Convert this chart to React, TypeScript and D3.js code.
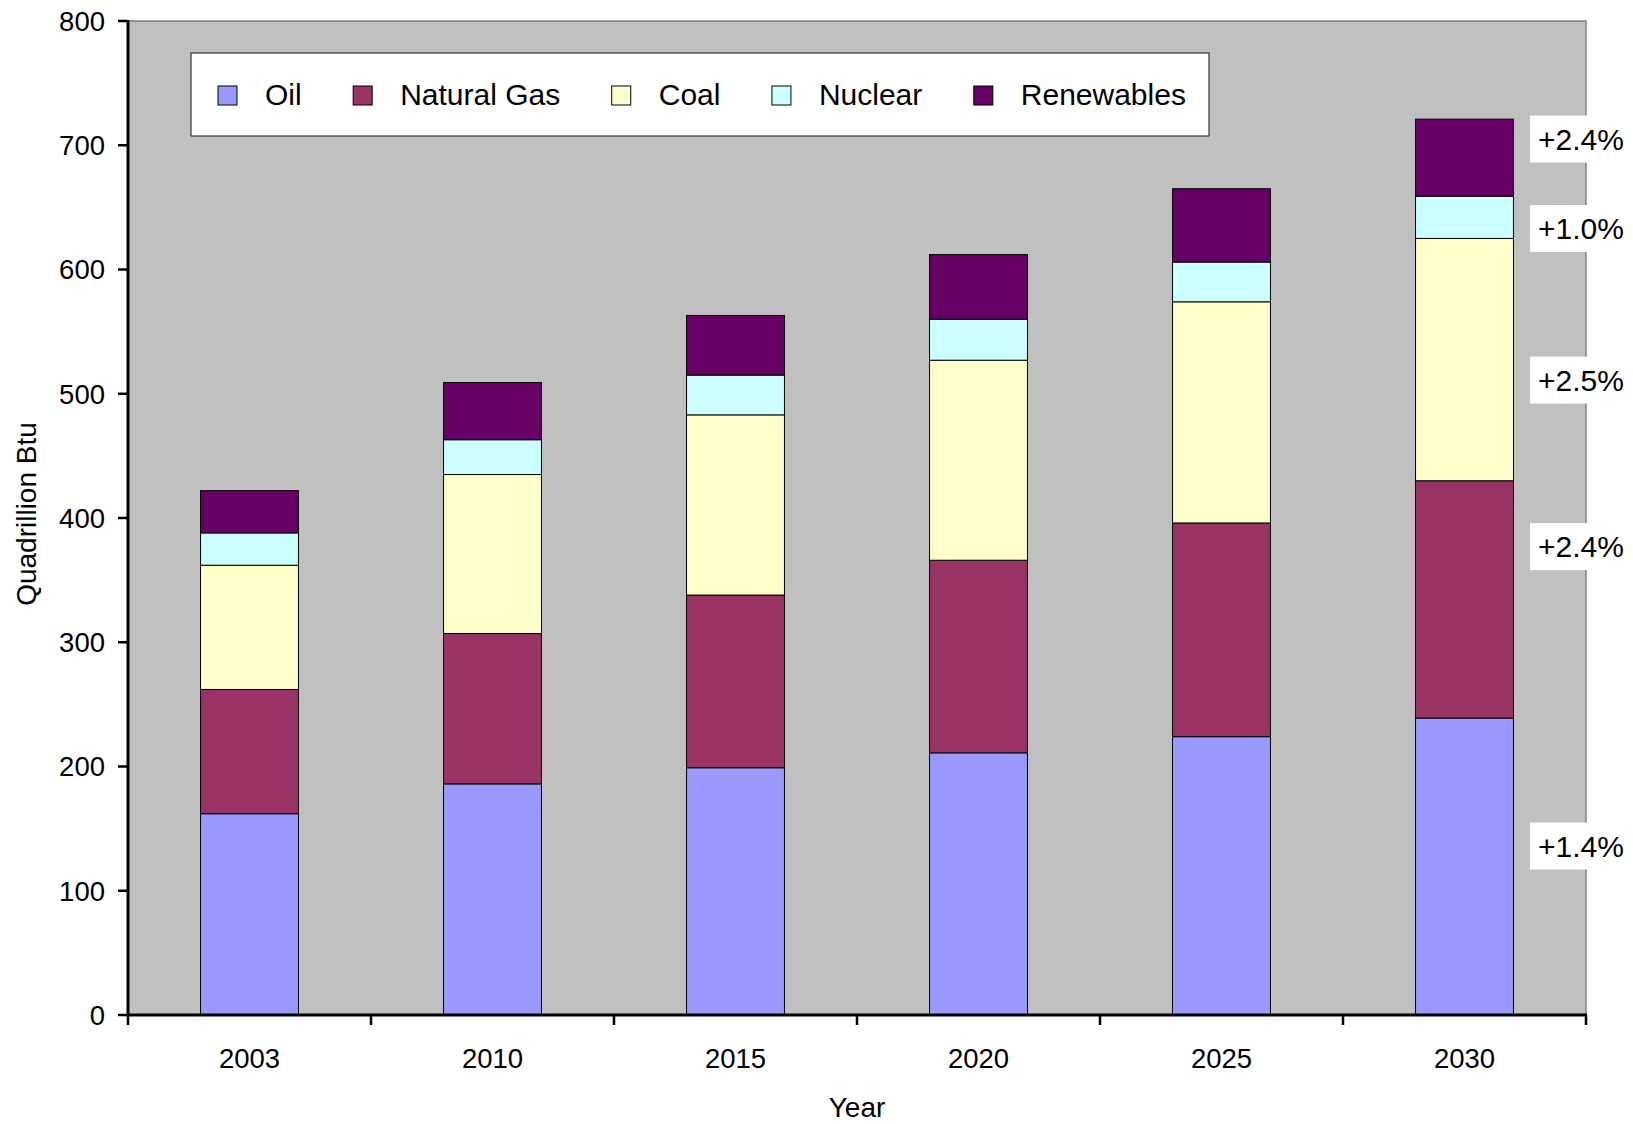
import React from "react";
import * as d3 from "d3";

const years = ["2003", "2010", "2015", "2020", "2025", "2030"];
const seriesNames = ["Oil", "Natural Gas", "Coal", "Nuclear", "Renewables"];
const oil = [162, 186, 199, 211, 224, 239];
const naturalGas = [100, 121, 139, 155, 172, 191];
const coal = [100, 128, 145, 161, 178, 195];
const nuclear = [26, 28, 32, 33, 32, 34];
const renewables = [34, 46, 48, 52, 59, 62];
const seriesColors = ["#9999FF", "#993366", "#FFFFCC", "#CCFFFF", "#660066"];
const yTicks = [0, 100, 200, 300, 400, 500, 600, 700, 800];
const growthLabels = ["+2.4%", "+1.0%", "+2.5%", "+2.4%", "+1.4%"];
const growthLabelAt = [705, 633, 511, 377, 136];

const FONT = "'Liberation Sans', Arial, Helvetica, sans-serif";

function measure(text: string, size: number): number {
  if (typeof document === "undefined") return text.length * size * 0.55;
  const c = document.createElement("canvas");
  const ctx = c.getContext("2d");
  if (!ctx) return text.length * size * 0.55;
  ctx.font = `${size}px ${FONT}`;
  return ctx.measureText(text).width;
}

export default function App() {
  const W = 1633;
  const H = 1124;
  const left = 128;
  const right = 1586;
  const top = 21;
  const bottom = 1015;

  const values = [oil, naturalGas, coal, nuclear, renewables];
  const rows = years.map((y, i) => {
    const r: any = { year: y };
    seriesNames.forEach((s, k) => (r[s] = values[k][i]));
    return r;
  });
  const stack = d3.stack<any>().keys(seriesNames)(rows);

  const x = d3
    .scaleBand<string>()
    .domain(years)
    .range([left, right])
    .paddingInner(0.597)
    .paddingOuter(0.2985);
  const y = d3.scaleLinear().domain([0, 800]).range([bottom, top]);
  const step = x.step();
  const bw = x.bandwidth();
  const boundaries = years.map((yr) => (x(yr) as number) + bw / 2 - step / 2);
  boundaries.push(right);

  // legend layout
  const legendFont = 30;
  let lx = 218;
  const legendItems = seriesNames.map((name, i) => {
    const item = { name, color: seriesColors[i], sx: lx, tx: lx + 47 };
    lx = lx + 47 + measure(name, legendFont) + 51.5;
    return item;
  });

  return (
    <svg
      width={W}
      height={H}
      style={{ position: "absolute", left: 0, top: 0, background: "#fff" }}
      fontFamily={FONT}
    >
      <rect x={0} y={0} width={W} height={H} fill="#fff" />
      {/* plot area */}
      <rect x={left} y={top} width={right - left} height={bottom - top} fill="#C0C0C0" stroke="#808080" strokeWidth={1.5} />

      {/* bars */}
      {stack.map((layer, k) => (
        <g key={layer.key}>
          {layer.map((d, i) => (
            <rect
              key={i}
              x={x(years[i])}
              y={y(d[1])}
              width={bw}
              height={y(d[0]) - y(d[1])}
              fill={seriesColors[k]}
              stroke="#000"
              strokeWidth={1}
            />
          ))}
        </g>
      ))}

      {/* legend */}
      <rect x={191} y={53} width={1018} height={83} fill="#fff" stroke="#333" strokeWidth={1.2} />
      {legendItems.map((it) => (
        <g key={it.name}>
          <rect x={it.sx} y={86} width={19} height={19} fill={it.color} stroke="#000" strokeWidth={1} />
          <text x={it.tx} y={105} fontSize={legendFont} fill="#000">
            {it.name}
          </text>
        </g>
      ))}

      {/* growth labels */}
      {growthLabels.map((t, i) => (
        <g key={i}>
          <rect x={1530} y={y(growthLabelAt[i]) - 23.5} width={W - 1530} height={47} fill="#fff" />
          <text x={1538} y={y(growthLabelAt[i])} dy="0.36em" fontSize={30} fill="#000">
            {t}
          </text>
        </g>
      ))}

      {/* y axis */}
      <line x1={left} x2={left} y1={top - 1} y2={bottom + 1.5} stroke="#000" strokeWidth={3} />
      {yTicks.map((t) => (
        <g key={t}>
          <line x1={118} x2={left} y1={y(t)} y2={y(t)} stroke="#000" strokeWidth={2.5} />
          <text x={105} y={y(t)} dy="0.36em" textAnchor="end" fontSize={27.5} fill="#000">
            {t}
          </text>
        </g>
      ))}

      {/* x axis */}
      <line x1={left - 1.5} x2={right + 1} y1={bottom} y2={bottom} stroke="#000" strokeWidth={3} />
      {boundaries.map((b, i) => (
        <line key={i} x1={b} x2={b} y1={bottom} y2={bottom + 10} stroke="#000" strokeWidth={2.5} />
      ))}
      {years.map((yr) => (
        <text key={yr} x={(x(yr) as number) + bw / 2} y={1068} textAnchor="middle" fontSize={27.5} fill="#000">
          {yr}
        </text>
      ))}

      {/* axis titles */}
      <text x={(left + right) / 2} y={1117} textAnchor="middle" fontSize={28} fill="#000">
        Year
      </text>
      <text transform="translate(36,514) rotate(-90)" textAnchor="middle" fontSize={28} fill="#000">
        Quadrillion Btu
      </text>
    </svg>
  );
}
